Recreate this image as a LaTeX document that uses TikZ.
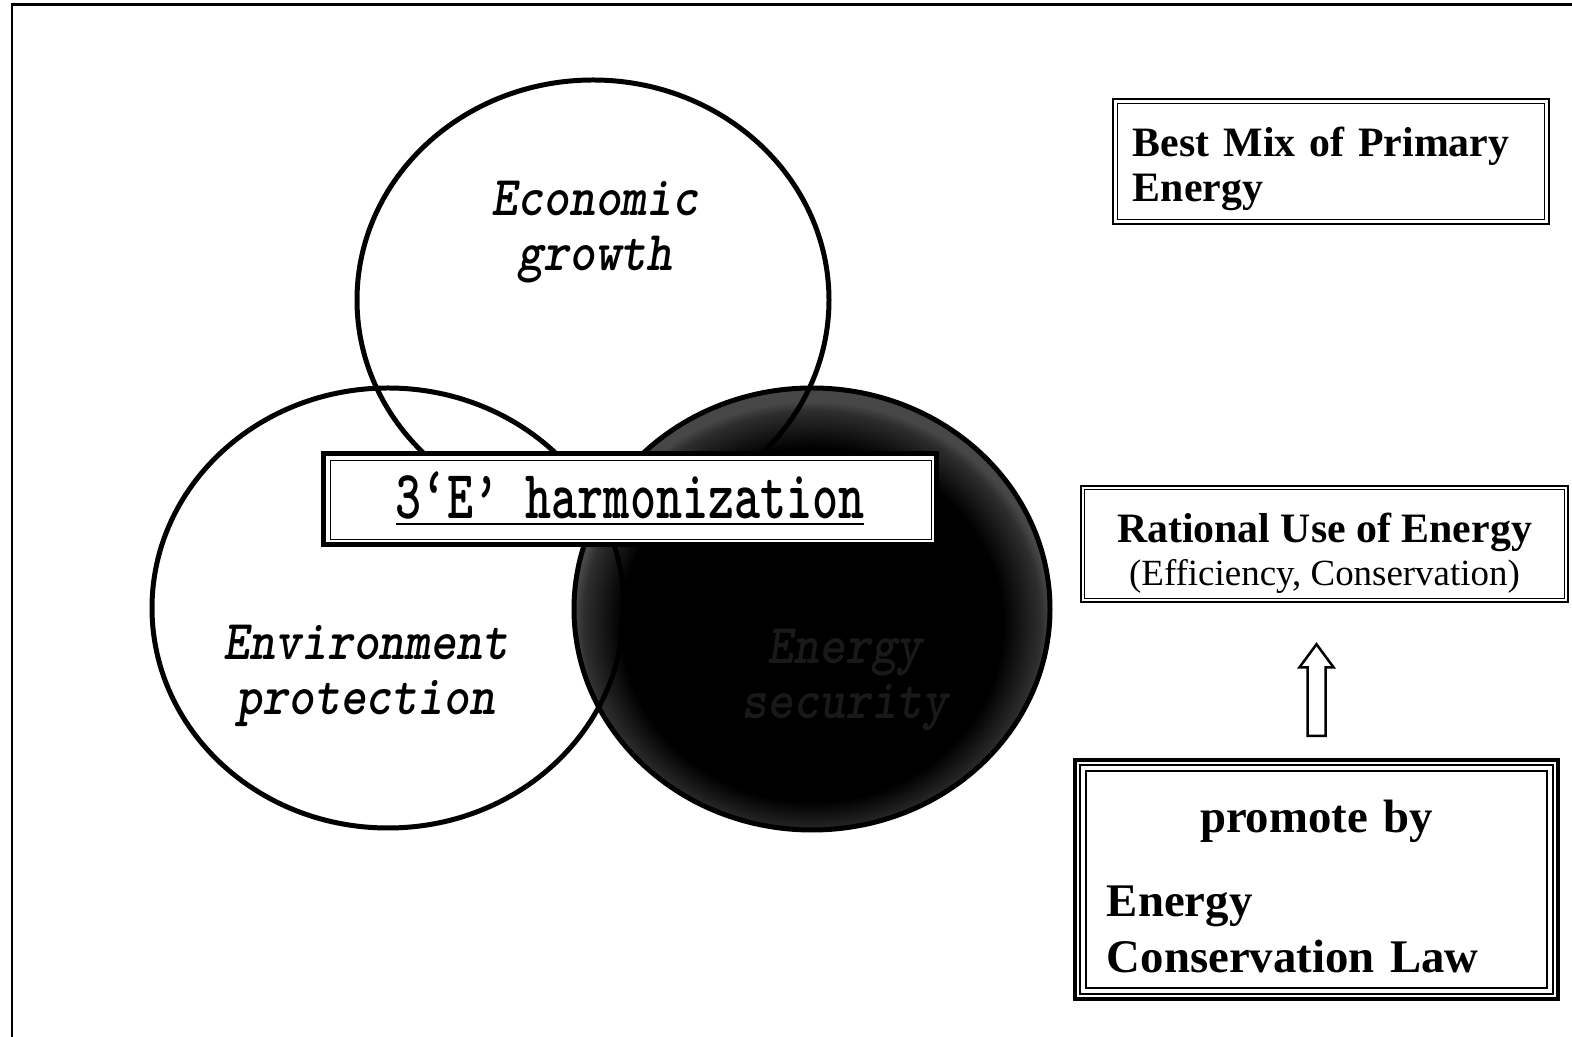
\documentclass[tikz,border=0pt]{standalone}
\usepackage{fontspec}
\usepackage{graphicx}
\setmainfont{Liberation Serif}
\newfontfamily\monob[Extension=.otf, ItalicFont=lmmonolt10-boldoblique]{lmmonolt10-bold}
\usetikzlibrary{calc}

% dark disc: black core, narrow greyish rim
\pgfdeclareradialshading{darkdisc}{\pgfpoint{0bp}{-3bp}}{color(0bp)=(black); color(20bp)=(black); color(24bp)=(black!82); color(25bp)=(black!72); color(50bp)=(black!72)}

\begin{document}
\begin{tikzpicture}[x=0.01cm,y=-0.01cm,
  ring/.style={line width=1.42pt},
  circlabel/.style={font=\monob\itshape\fontsize{16}{15.8}\selectfont, inner sep=0},
  framebox/.style={draw, line width=0.71pt, fill=white},
  thinframe/.style={line width=0.43pt},
  boxtext/.style={inner sep=0}]
\useasboundingbox (0,0) rectangle (1572,1037);

% outer frame
\draw[line width=0.85pt] (12,1037) -- (12,5) -- (1572,5);

% the dark disc and its faint label
\shade[shading=darkdisc] (812,609) ellipse [x radius=238, y radius=221];
\node[circlabel, text=black!90] (sec) at (845,680)
  {\scalebox{0.88}[1]{\begin{tabular}{@{}c@{}}Energy\\security\end{tabular}}};

% the three rings
\draw[ring] (593,300) ellipse [x radius=236, y radius=220];
\draw[ring] (388,608) ellipse [x radius=236, y radius=220];
\draw[ring] (812,609) ellipse [x radius=238, y radius=221];

\node[circlabel] (eco) at (595,232)
  {\scalebox{0.88}[1]{\begin{tabular}{@{}c@{}}Economic\\growth\end{tabular}}};
\node[circlabel] (env) at (366,676)
  {\scalebox{0.88}[1]{\begin{tabular}{@{}c@{}}Environment\\protection\end{tabular}}};

% central banner
\node[draw, line width=1.42pt, fill=white, minimum width=6.12cm, minimum height=0.90cm, inner sep=0] (h) at (630,499)
  {\monob\fontsize{19.6}{20}\selectfont\scalebox{0.72}[1]{\underline{3‘E’ harmonization}}};
\draw[thinframe] ([shift={(9,9)}]h.north west) rectangle ([shift={(-7,-7)}]h.south east);

% right-hand boxes
\node[framebox, minimum width=4.36cm, minimum height=1.25cm] (mix) at (1331,161.5) {};
\draw[thinframe] ([shift={(6,6)}]mix.north west) rectangle ([shift={(-6,-6)}]mix.south east);
\node[boxtext, text width=4.0cm, align=left, font=\bfseries\fontsize{11.9}{12.8}\selectfont]
  (mixt) at ($(mix.center)+(2,7)$) {Best Mix of Primary\\Energy};

\node[framebox, minimum width=4.87cm, minimum height=1.16cm] (ru) at (1324.5,544) {};
\draw[thinframe] ([shift={(5,5)}]ru.north west) rectangle ([shift={(-5,-5)}]ru.south east);
\node[boxtext, align=center, font=\fontsize{11.9}{12.2}\selectfont] (rut) at ($(ru.center)+(0,9)$)
  {\textbf{Rational Use of Energy}\\{\fontsize{10.5}{12.2}\selectfont (Efficiency, Conservation)}};

\node[draw, line width=1.14pt, fill=white, minimum width=4.83cm, minimum height=2.39cm] (pb) at (1316.5,879.5) {};
\draw[line width=0.57pt] ([shift={(7,7)}]pb.north west) rectangle ([shift={(-7,-7)}]pb.south east);
\draw[thinframe] ([shift={(13,13)}]pb.north west) rectangle ([shift={(-13,-13)}]pb.south east);
\node[boxtext, text width=4.19cm, align=left, font=\bfseries\fontsize{13.3}{15.9}\selectfont]
  (pbt) at ($(pb.center)+(0,7)$)
  {\makebox[4.19cm][c]{promote by}\\[0.28cm]Energy\\Conservation Law};

% hollow arrow from the law box up to rational use
\coordinate (atip) at ($(pb.north |- ru.south)+(0,41)$);
\coordinate (abase) at ($(pb.north)+(0,-22)$);
\draw[line width=0.71pt, fill=white, line join=miter]
  (atip) -- ($(atip)+(-17,23)$) -- ($(atip)+(-9,23)$) -- ($(abase)+(-9,0)$)
  -- ($(abase)+(9,0)$) -- ($(atip)+(9,23)$) -- ($(atip)+(17,23)$) -- cycle;
\end{tikzpicture}
\end{document}
